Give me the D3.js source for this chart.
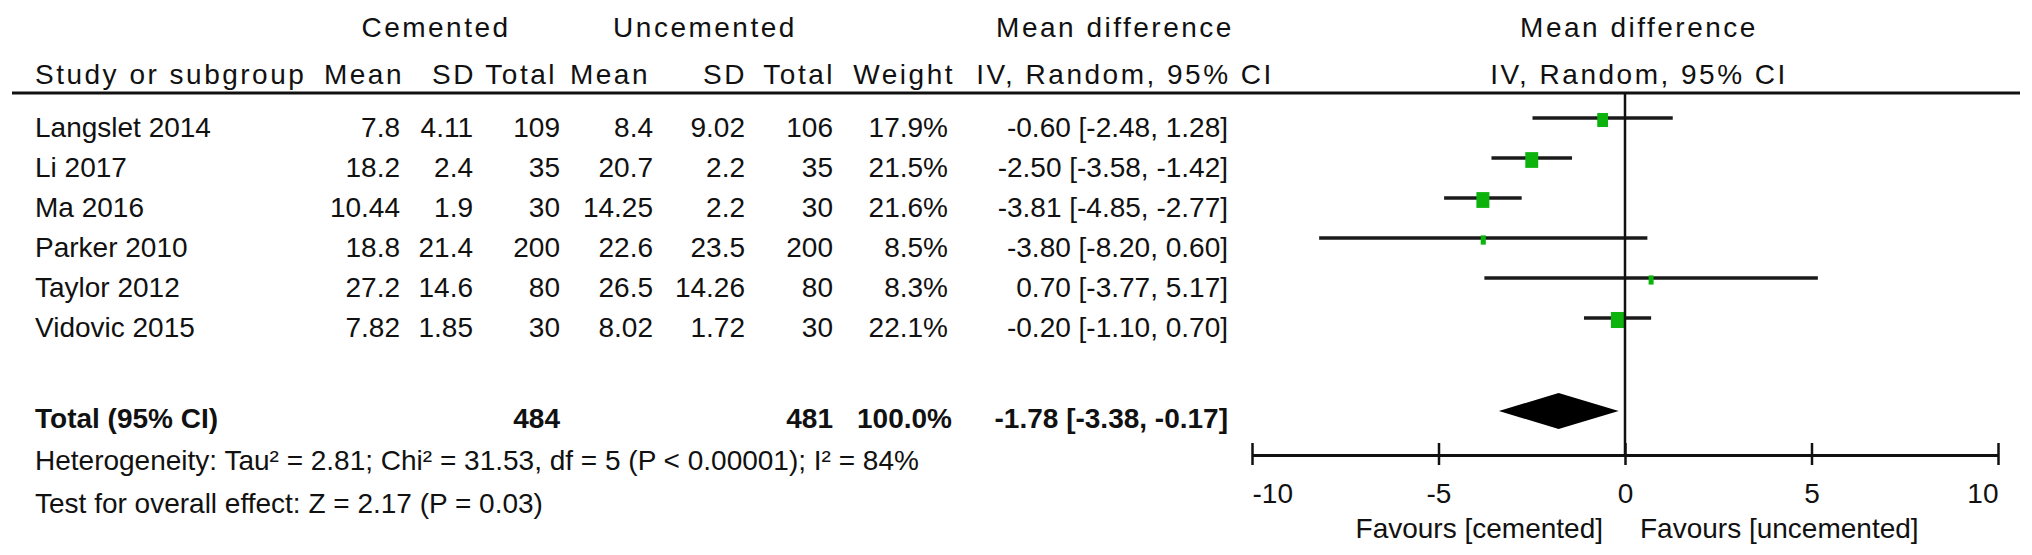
<!DOCTYPE html>
<html>
<head>
<meta charset="utf-8">
<script src="https://cdn.jsdelivr.net/npm/d3@7"></script>
<style>
  body { margin: 0; background: #fff; }
  text { font-family: "Liberation Sans", Arial, sans-serif; font-size: 28px; fill: #111; }
  .hd { letter-spacing: 2.5px; }
  .bold { font-weight: bold; }
</style>
</head>
<body>
<script>

var studies  = ["Langslet 2014", "Li 2017", "Ma 2016", "Parker 2010", "Taylor 2012", "Vidovic 2015"];
var cemMean  = [7.8, 18.2, 10.44, 18.8, 27.2, 7.82];
var cemSD    = [4.11, 2.4, 1.9, 21.4, 14.6, 1.85];
var cemN     = [109, 35, 30, 200, 80, 30];
var uncMean  = [8.4, 20.7, 14.25, 22.6, 26.5, 8.02];
var uncSD    = [9.02, 2.2, 2.2, 23.5, 14.26, 1.72];
var uncN     = [106, 35, 30, 200, 80, 30];
var weight   = [17.9, 21.5, 21.6, 8.5, 8.3, 22.1];
var md       = [-0.60, -2.50, -3.81, -3.80, 0.70, -0.20];
var mdLo     = [-2.48, -3.58, -4.85, -8.20, -3.77, -1.10];
var mdHi     = [1.28, -1.42, -2.77, 0.60, 5.17, 0.70];

var total    = { cemN: 484, uncN: 481, weight: 100.0, md: -1.78, lo: -3.38, hi: -0.17 };
var axisTicks = [-10, -5, 0, 5, 10];
var heterogeneity = "Heterogeneity: Tau\u00b2 = 2.81; Chi\u00b2 = 31.53, df = 5 (P < 0.00001); I\u00b2 = 84%";
var overall = "Test for overall effect: Z = 2.17 (P = 0.03)";

var W = 2032, H = 555;

var svg = d3.select("body").append("svg")
    .attr("width", W)
    .attr("height", H);

// scales
var x = d3.scaleLinear().domain([-10, 10]).range([1252, 1998]);
var y = d3.scaleLinear().domain([0, 5]).range([137, 337]);   // text baselines of study rows
var totalY = 428;

// column right edges
var cols = [400, 473, 560, 653, 745, 833, 948];
var ciRight = 1228;

function ci(m, l, h) {
  return m.toFixed(2) + " [" + l.toFixed(2) + ", " + h.toFixed(2) + "]";
}

// header
svg.append("text").attr("class", "hd").attr("x", 436).attr("y", 37).attr("text-anchor", "middle").text("Cemented");
svg.append("text").attr("class", "hd").attr("x", 705).attr("y", 37).attr("text-anchor", "middle").text("Uncemented");
svg.append("text").attr("class", "hd").attr("x", 1115).attr("y", 37).attr("text-anchor", "middle").text("Mean difference");
svg.append("text").attr("class", "hd").attr("x", 1639).attr("y", 37).attr("text-anchor", "middle").text("Mean difference");

svg.append("text").attr("class", "hd").attr("x", 35).attr("y", 84).text("Study or subgroup");
var hdr = ["Mean", "SD", "Total", "Mean", "SD", "Total", "Weight"];
var hdrRight = [404, 476, 557, 650, 747, 835, 955];
svg.selectAll(".colhd")
  .data(hdr)
  .enter()
  .append("text")
  .attr("class", "hd colhd")
  .attr("x", function(d, i) { return hdrRight[i]; })
  .attr("y", 84)
  .attr("text-anchor", "end")
  .text(function(d) { return d; });
svg.append("text").attr("class", "hd").attr("x", 1125).attr("y", 84).attr("text-anchor", "middle").text("IV, Random, 95% CI");
svg.append("text").attr("class", "hd").attr("x", 1639).attr("y", 84).attr("text-anchor", "middle").text("IV, Random, 95% CI");

svg.append("line")
  .attr("x1", 12).attr("x2", 2020)
  .attr("y1", 93).attr("y2", 93)
  .style("stroke", "#111").style("stroke-width", 3);

// study rows
var rows = studies.map(function(s, i) {
  return {
    name: s,
    cells: [cemMean[i], cemSD[i], cemN[i], uncMean[i], uncSD[i], uncN[i], weight[i].toFixed(1) + "%"],
    ci: ci(md[i], mdLo[i], mdHi[i]),
    md: md[i], lo: mdLo[i], hi: mdHi[i], w: weight[i], i: i
  };
});

var g = svg.selectAll(".row")
  .data(rows)
  .enter()
  .append("g")
  .attr("class", "row");

g.append("text")
  .attr("x", 35)
  .attr("y", function(d) { return y(d.i); })
  .text(function(d) { return d.name; });

g.selectAll(".cell")
  .data(function(d) { return d.cells.map(function(c) { return { v: c, yy: y(d.i) }; }); })
  .enter()
  .append("text")
  .attr("x", function(d, j) { return cols[j]; })
  .attr("y", function(d) { return d.yy; })
  .attr("text-anchor", "end")
  .text(function(d) { return d.v; });

g.append("text")
  .attr("x", ciRight)
  .attr("y", function(d) { return y(d.i); })
  .attr("text-anchor", "end")
  .text(function(d) { return d.ci; });

// total row
svg.append("text").attr("class", "bold").attr("x", 35).attr("y", totalY).text("Total (95% CI)");
svg.append("text").attr("class", "bold").attr("x", cols[2]).attr("y", totalY).attr("text-anchor", "end").text(total.cemN);
svg.append("text").attr("class", "bold").attr("x", cols[5]).attr("y", totalY).attr("text-anchor", "end").text(total.uncN);
svg.append("text").attr("class", "bold").attr("x", cols[6] + 4).attr("y", totalY).attr("text-anchor", "end").text(total.weight.toFixed(1) + "%");
svg.append("text").attr("class", "bold").attr("x", ciRight).attr("y", totalY).attr("text-anchor", "end").text(ci(total.md, total.lo, total.hi));

svg.append("text").attr("x", 35).attr("y", 470).text(heterogeneity);
svg.append("text").attr("x", 35).attr("y", 513).text(overall);

// forest plot
var axisY = 455;

svg.append("line")
  .attr("x1", x(0)).attr("x2", x(0))
  .attr("y1", 93).attr("y2", axisY)
  .style("stroke", "#111").style("stroke-width", 2.5);

g.append("line")
  .attr("x1", function(d) { return x(d.lo); })
  .attr("x2", function(d) { return x(d.hi); })
  .attr("y1", function(d) { return y(d.i) - 19; })
  .attr("y2", function(d) { return y(d.i) - 19; })
  .style("stroke", "#1a1a1a").style("stroke-width", 3.5);

g.append("rect")
  .attr("x", function(d) { return x(d.md) - 0.6 * d.w / 2; })
  .attr("y", function(d) { return y(d.i) - 19 - (0.5 * d.w + 5) / 2 + 2; })
  .attr("width", function(d) { return 0.6 * d.w; })
  .attr("height", function(d) { return 0.5 * d.w + 5; })
  .style("fill", "#0db30d");

var dy = totalY - 17;
svg.append("path")
  .attr("d", "M" + x(total.lo) + "," + dy +
             "L" + x(total.md) + "," + (dy - 18) +
             "L" + x(total.hi) + "," + dy +
             "L" + x(total.md) + "," + (dy + 18) + "Z")
  .style("fill", "#000");

var axis = d3.axisBottom(x)
  .tickValues(axisTicks)
  .tickSize(11)
  .tickSizeOuter(0)
  .tickFormat(d3.format("d"));

var ax = svg.append("g")
  .attr("transform", "translate(0," + axisY + ")")
  .call(axis);

ax.select(".domain").style("stroke", "#111").style("stroke-width", 3);
ax.selectAll(".tick line")
  .attr("y1", -12).attr("y2", 10)
  .style("stroke", "#111").style("stroke-width", 2.5);
ax.selectAll(".tick text")
  .attr("y", 48).attr("dy", 0)
  .attr("text-anchor", function(d, i) { return i === 0 ? "start" : (i === axisTicks.length - 1 ? "end" : "middle"); })
  .style("font-size", "28px")
  .style("font-family", "'Liberation Sans', Arial, sans-serif")
  .style("fill", "#111")
  .text(function(d) { return d < 0 ? "-" + Math.abs(d) : d; });

svg.append("text").attr("x", x(0) - 22).attr("y", 538).attr("text-anchor", "end").text("Favours [cemented]");
svg.append("text").attr("x", x(0) + 15).attr("y", 538).text("Favours [uncemented]");

</script>
</body>
</html>
